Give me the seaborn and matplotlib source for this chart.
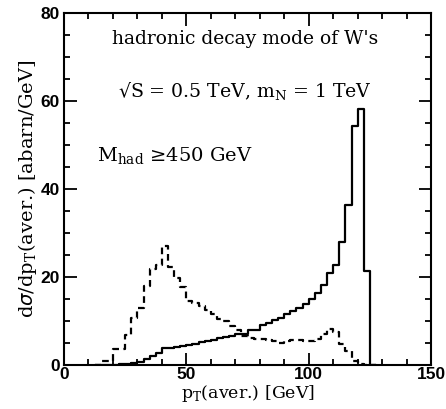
import numpy as np
import pandas as pd
import seaborn as sns
import matplotlib.pyplot as plt
from matplotlib.ticker import MultipleLocator

# bin edges of pT(aver.) [GeV], 2.5 GeV bins (empty first and last bin close the outline)
edges = np.arange(12.5, 130, 2.5)
centers = edges[:-1] + 1.25

# M_had >= 450 GeV (solid)
solid = [0, 0, 0, 0, 0.2, 0.3, 0.5, 0.7, 1.4, 2.1, 2.8, 3.9, 4.0, 4.2, 4.4,
         4.6, 4.9, 5.2, 5.5, 5.8, 6.1, 6.4, 6.7, 7.0, 7.2, 8.0, 8.1, 9.1,
         9.5, 10.2, 10.8, 11.6, 12.4, 13.1, 13.9, 15.1, 16.5, 18.2, 20.9,
         22.7, 28.0, 36.4, 54.4, 58.3, 21.4, 0]

# no cut (dashed)
dashed = [0, 1.0, 1.0, 3.6, 3.6, 6.8, 10.8, 13.1, 18.1, 21.8, 22.7, 27.1, 22.3,
          19.9, 17.8, 14.6, 14.1, 13.4, 12.6, 11.6, 10.6, 10.0, 9.0, 7.9, 6.7,
          6.2, 6.0, 5.9, 5.7, 5.5, 5.1, 5.6, 5.7, 5.7, 5.6, 5.5, 6.0, 7.0, 8.2,
          7.6, 4.8, 3.2, 1.0, 0.3, 0, 0]

df = pd.DataFrame({'pt': centers, 'solid': solid, 'dashed': dashed})

sns.set_style("ticks")
plt.rcParams['font.family'] = ['DejaVu Serif']
plt.rcParams['text.color'] = 'black'
plt.rcParams['axes.labelcolor'] = 'black'
plt.rcParams['xtick.color'] = 'black'
plt.rcParams['ytick.color'] = 'black'

fig = plt.figure(figsize=(4.46, 4.09), dpi=100)
ax = fig.add_axes([0.1435, 0.107, 0.823, 0.861])

sns.histplot(data=df, x='pt', weights='solid', bins=edges.tolist(), element='step',
             fill=False, color='black', linewidth=1.6, ax=ax)
sns.histplot(data=df, x='pt', weights='dashed', bins=edges.tolist(), element='step',
             fill=False, color='black', linewidth=1.6, linestyle=(0, (3, 2)), ax=ax)

ax.set_xlim(0, 150)
ax.set_ylim(0, 80)
ax.xaxis.set_major_locator(MultipleLocator(50))
ax.xaxis.set_minor_locator(MultipleLocator(10))
ax.yaxis.set_major_locator(MultipleLocator(20))
ax.yaxis.set_minor_locator(MultipleLocator(5))
ax.tick_params(which='both', direction='in', top=True, right=True, width=1.3)
ax.tick_params(which='major', length=9, labelsize=12.5, pad=3)
ax.tick_params(axis='x', which='major', pad=1)
ax.tick_params(which='minor', length=4.5)
for lab in ax.get_xticklabels() + ax.get_yticklabels():
    lab.set_family('Liberation Sans')
    lab.set_fontweight('bold')
for sp in ax.spines.values():
    sp.set_linewidth(1.5)
    sp.set_color('black')

ax.set_xlabel(r'p$_\mathregular{T}$(aver.) [GeV]', fontsize=12.5, labelpad=1)
ax.set_ylabel(r'd$\sigma$/dp$_\mathregular{T}$(aver.) [abarn/GeV]', fontsize=14, labelpad=1)

ax.text(74, 74, "hadronic decay mode of W's", ha='center', va='center', fontsize=13.5)
ax.text(74, 62, r'√S = 0.5 TeV, m$_\mathregular{N}$ = 1 TeV', ha='center', va='center', fontsize=13.6)
ax.text(13.5, 47.5, r'M$_\mathregular{had}$ ≥450 GeV', ha='left', va='center', fontsize=14)

fig.savefig('out.png', dpi=100)
